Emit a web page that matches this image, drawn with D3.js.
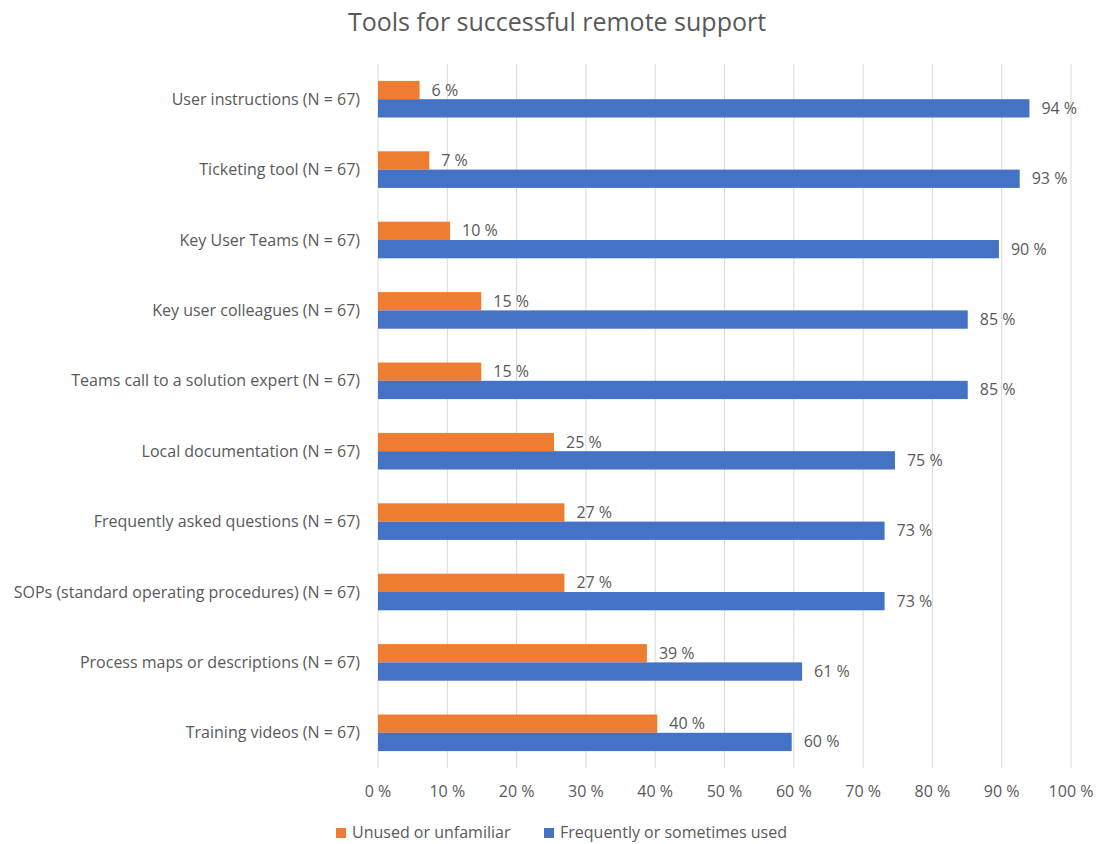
<!DOCTYPE html>
<html>
<head>
<meta charset="utf-8">
<script src="https://cdn.jsdelivr.net/npm/d3@7"></script>
<style>
  body { margin: 0; background: #fff; }
  svg { font-family: "Open Sans", sans-serif; }
</style>
</head>
<body>
<svg id="chart" width="1102" height="844"></svg>
<script>
// data (bar lengths, labels are rounded)
const categories = [
    "User instructions (N = 67)",
    "Ticketing tool (N = 67)",
    "Key User Teams (N = 67)",
    "Key user colleagues (N = 67)",
    "Teams call to a solution expert (N = 67)",
    "Local documentation (N = 67)",
    "Frequently asked questions (N = 67)",
    "SOPs (standard operating procedures) (N = 67)",
    "Process maps or descriptions (N = 67)",
    "Training videos (N = 67)"
];
const unusedValues = [6.0, 7.4, 10.4, 14.9, 14.9, 25.4, 26.9, 26.9, 38.8, 40.3];
const usedValues = [94.0, 92.6, 89.6, 85.1, 85.1, 74.6, 73.1, 73.1, 61.2, 59.7];
const seriesNames = ["Unused or unfamiliar", "Frequently or sometimes used"];
const xTicks = [0, 10, 20, 30, 40, 50, 60, 70, 80, 90, 100];

const colors = ["#ed7d31", "#4472c4"];
const textColor = "#595959";

const svg = d3.select("#chart");
const margin = { top: 64, left: 378, right: 31, bottom: 76 };
const width = 1102, height = 844;

const x = d3.scaleLinear().domain([0, 100]).range([margin.left, width - margin.right]);
const y = d3.scaleBand().domain(categories).range([margin.top, height - margin.bottom]);
const barH = 18.3;

// title
svg.append("text")
    .attr("x", 557).attr("y", 31)
    .attr("text-anchor", "middle")
    .attr("fill", textColor)
    .attr("font-size", "25px")
    .text("Tools for successful remote support");

// gridlines
svg.append("g")
    .selectAll("line")
    .data(xTicks)
    .enter().append("line")
    .attr("x1", d => x(d)).attr("x2", d => x(d))
    .attr("y1", margin.top).attr("y2", height - margin.bottom)
    .attr("stroke", "#d9d9d9")
    .attr("stroke-width", 1);

// x tick labels
svg.append("g")
    .selectAll("text")
    .data(xTicks)
    .enter().append("text")
    .attr("x", d => x(d)).attr("y", 797)
    .attr("text-anchor", "middle")
    .attr("fill", textColor)
    .attr("font-size", "16px")
    .text(d => d + " %");

// category labels
svg.append("g")
    .selectAll("text")
    .data(categories)
    .enter().append("text")
    .attr("x", 360)
    .attr("y", d => y(d) + y.bandwidth() / 2 + 5.5)
    .attr("text-anchor", "end")
    .attr("fill", textColor)
    .attr("font-size", "16px")
    .text(d => d);

// bars
const series = [unusedValues, usedValues];
series.forEach((vals, si) => {
    const g = svg.append("g");
    g.selectAll("rect")
        .data(vals)
        .enter().append("rect")
        .attr("x", x(0))
        .attr("y", (d, i) => y(categories[i]) + y.bandwidth() / 2 - barH + si * barH)
        .attr("width", d => x(d) - x(0))
        .attr("height", barH)
        .attr("fill", colors[si]);

    g.selectAll("text")
        .data(vals)
        .enter().append("text")
        .attr("x", d => x(d) + 12)
        .attr("y", (d, i) => y(categories[i]) + y.bandwidth() / 2 - barH / 2 + si * barH + 5.5)
        .attr("fill", textColor)
        .attr("font-size", "16px")
        .text(d => Math.round(d) + " %");
});

// legend
const legendX = [336, 544];
seriesNames.forEach((name, i) => {
    svg.append("rect")
        .attr("x", legendX[i]).attr("y", 828)
        .attr("width", 10).attr("height", 10)
        .attr("fill", colors[i]);
    svg.append("text")
        .attr("x", legendX[i] + 16).attr("y", 838)
        .attr("fill", textColor)
        .attr("font-size", "16px")
        .text(name);
});
</script>
</body>
</html>
